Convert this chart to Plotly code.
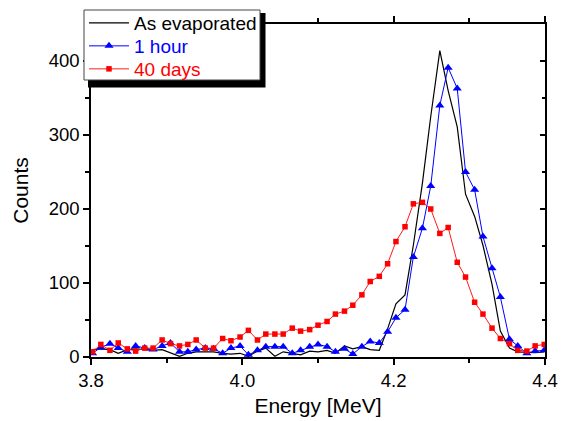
import plotly.graph_objects as go

# Energy channels [MeV]
energy = [3.802, 3.813, 3.825, 3.836, 3.848, 3.859, 3.871, 3.882, 3.894, 3.905,
          3.917, 3.928, 3.939, 3.951, 3.962, 3.974, 3.985, 3.997, 4.008, 4.020,
          4.031, 4.043, 4.054, 4.066, 4.077, 4.089, 4.100, 4.112, 4.123, 4.135,
          4.146, 4.158, 4.169, 4.181, 4.192, 4.203, 4.215, 4.226, 4.238, 4.249,
          4.261, 4.272, 4.284, 4.295, 4.307, 4.318, 4.330, 4.341, 4.353, 4.364,
          4.376, 4.387, 4.399]

as_evaporated = [10, 11, 10, 5, 10, 11, 10, 9, 10, 6,
                 1, 5, 7, 7, 7, 5, 4, 5, 1, 8,
                 12, 1, 7, 5, 3, 8, 7, 9, 5, 15,
                 11, 14, 10, 9, 38, 72, 84, 151, 235, 325,
                 414, 360, 311, 220, 190, 151, 98, 35, 12, 7,
                 6, 6, 7]

one_hour = [5, 13, 18, 12, 7, 15, 12, 10, 15, 19,
            7, 7, 10, 12, 11, 5, 12, 15, 3, 9,
            14, 14, 14, 5, 9, 14, 17, 14, 7, 11,
            4, 14, 21, 19, 34, 53, 64, 135, 174, 231,
            340, 391, 363, 250, 226, 163, 120, 81, 24, 15,
            5, 8, 9]

forty_days = [7, 17, 9, 19, 11, 8, 12, 12, 23, 18,
              15, 17, 23, 12, 12, 25, 22, 27, 36, 23,
              31, 31, 31, 39, 35, 37, 43, 48, 58, 62,
              70, 84, 102, 109, 126, 156, 176, 207, 209, 200,
              167, 175, 128, 108, 74, 58, 39, 25, 18, 9,
              8, 15, 17]

series_names = ["As evaporated", "1 hour", "40 days"]
x_ticks = [3.8, 4.0, 4.2, 4.4]
x_minor = [3.9, 4.1, 4.3]
y_ticks = [0, 100, 200, 300, 400]
y_minor = [50, 150, 250, 350]

FONT = "Liberation Sans, Arial, sans-serif"
BLUE = "#0000ff"
RED = "#ff0000"

fig = go.Figure()
fig.add_trace(go.Scatter(x=energy, y=as_evaporated, name=series_names[0],
                         mode="lines", line=dict(color="black", width=1.2),
                         legend="legend"))
fig.add_trace(go.Scatter(x=energy, y=one_hour, name=series_names[1],
                         mode="lines+markers",
                         line=dict(color=BLUE, width=1),
                         marker=dict(symbol="triangle-up", size=8, color=BLUE),
                         legend="legend2"))
fig.add_trace(go.Scatter(x=energy, y=forty_days, name=series_names[2],
                         mode="lines+markers",
                         line=dict(color="#ff1a1a", width=1),
                         marker=dict(symbol="square", size=5.5, color=RED),
                         legend="legend3"))
# empty trace carrying the right-hand tick axis
fig.add_trace(go.Scatter(x=[], y=[], yaxis="y2", showlegend=False, hoverinfo="skip"))

L, R, T, B = 91, 22, 24, 64
W, H = 567, 421
pw, ph = W - L - R, H - T - B


def px_x(p):
    return (p - L) / pw


def px_y(p):
    return (H - B - p) / ph


def legend_row(y_px, color):
    return dict(x=px_x(84), y=px_y(y_px), xanchor="left", yanchor="middle",
                bgcolor="rgba(0,0,0,0)", borderwidth=0,
                font=dict(size=19, family=FONT, color=color), itemwidth=40)


fig.update_layout(
    width=W, height=H, autosize=False,
    margin=dict(l=L, r=R, t=T, b=B, autoexpand=False),
    paper_bgcolor="white", plot_bgcolor="white",
    font=dict(family=FONT, color="black"),
    xaxis=dict(range=[3.8, 4.4], tickvals=x_ticks, tickformat=".1f",
               ticks="outside", ticklen=6, tickwidth=1.5, tickcolor="black",
               showline=True, linecolor="black", linewidth=1.5, mirror="ticks",
               showgrid=False, zeroline=False,
               minor=dict(tickvals=x_minor, ticks="outside", ticklen=4,
                          tickwidth=1.5, tickcolor="black"),
               tickfont=dict(size=18.5),
               title=dict(text="Energy [MeV]", font=dict(size=21), standoff=8)),
    yaxis=dict(range=[0, 450], tickvals=y_ticks,
               ticks="outside", ticklen=6, tickwidth=1.5, tickcolor="black",
               showline=True, linecolor="black", linewidth=1.5, mirror=True,
               showgrid=False, zeroline=False,
               minor=dict(tickvals=y_minor, ticks="outside", ticklen=4,
                          tickwidth=1.5, tickcolor="black"),
               tickfont=dict(size=18.5),
               title=dict(text="Counts", font=dict(size=21), standoff=14)),
    yaxis2=dict(range=[0, 450], overlaying="y", side="right", tickvals=y_ticks,
                ticks="inside", ticklen=5, tickwidth=1.5, tickcolor="black",
                showticklabels=False, showline=False, showgrid=False, zeroline=False,
                minor=dict(tickvals=y_minor, ticks="inside", ticklen=3,
                           tickwidth=1.5, tickcolor="black")),
    legend=legend_row(23, "black"),
    legend2=legend_row(46, BLUE),
    legend3=legend_row(69, RED),
    showlegend=True,
    shapes=[
        # drop shadow behind the legend box
        dict(type="rect", xref="paper", yref="paper",
             x0=px_x(88), x1=px_x(265.5), y0=px_y(87.5), y1=px_y(13),
             fillcolor="black", line=dict(width=0), layer="above"),
        # legend box
        dict(type="rect", xref="paper", yref="paper",
             x0=px_x(84), x1=px_x(260), y0=px_y(80), y1=px_y(10),
             fillcolor="white", line=dict(color="#444444", width=1), layer="above"),
    ],
)

fig.write_html("out.html")
